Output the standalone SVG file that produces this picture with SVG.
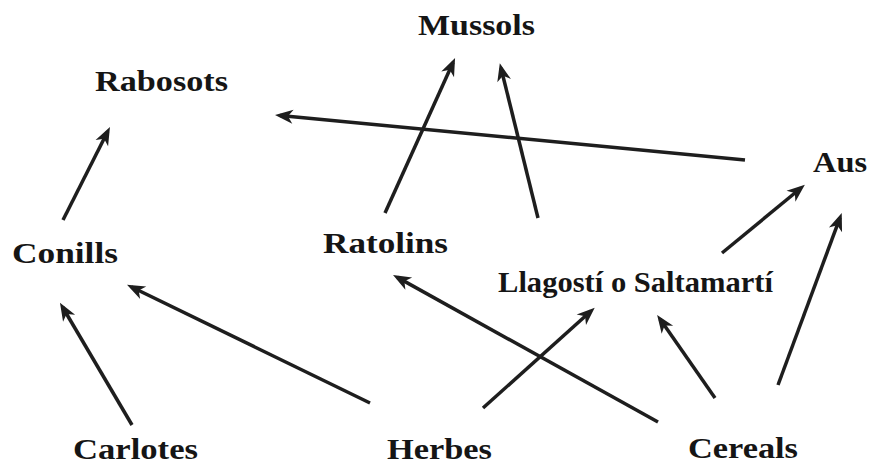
<svg xmlns="http://www.w3.org/2000/svg" width="869" height="466" viewBox="0 0 869 466">
<style>
text{font-family:"Liberation Serif","Times New Roman",serif;font-weight:bold;font-size:29px;fill:#151515}
.c line{stroke:#1e1e1e;stroke-width:3.5;marker-end:url(#ah)}
</style>
<defs>
<marker id="ah" markerUnits="userSpaceOnUse" markerWidth="24" markerHeight="16" refX="15" refY="8" orient="auto">
<path d="M2,1 L20,8 L2,15 L7,8 Z" fill="#1e1e1e"/>
</marker>
</defs>
<rect width="869" height="466" fill="#fff"/>
<g id="mussols"><text x="418" y="35" textLength="117" lengthAdjust="spacingAndGlyphs">Mussols</text></g>
<g id="rabosots"><text x="95" y="91" textLength="133" lengthAdjust="spacingAndGlyphs">Rabosots</text></g>
<g id="aus"><text x="813" y="172" textLength="54" lengthAdjust="spacingAndGlyphs">Aus</text></g>
<g id="conills"><text x="12" y="263" textLength="106" lengthAdjust="spacingAndGlyphs">Conills</text></g>
<g id="ratolins"><text x="323" y="253" textLength="125" lengthAdjust="spacingAndGlyphs">Ratolins</text></g>
<g id="llagosti"><text x="498" y="292" textLength="275" lengthAdjust="spacingAndGlyphs">Llagostí o Saltamartí</text></g>
<g id="carlotes"><text x="73" y="459" textLength="125" lengthAdjust="spacingAndGlyphs">Carlotes</text></g>
<g id="herbes"><text x="387" y="459" textLength="105" lengthAdjust="spacingAndGlyphs">Herbes</text></g>
<g id="cereals"><text x="688" y="458" textLength="110" lengthAdjust="spacingAndGlyphs">Cereals</text></g>
<g class="c" id="connectors">
<line x1="63" y1="220" x2="107.7" y2="131.5"/>
<line x1="385" y1="213" x2="453" y2="62.5"/>
<line x1="538" y1="218" x2="501" y2="68"/>
<line x1="745" y1="160" x2="280" y2="115.5"/>
<line x1="722" y1="253" x2="801" y2="188"/>
<line x1="778" y1="385" x2="840" y2="217.7"/>
<line x1="132" y1="425" x2="62.5" y2="307"/>
<line x1="370" y1="403" x2="131.5" y2="287"/>
<line x1="658" y1="422" x2="397.4" y2="277.4"/>
<line x1="483" y1="408" x2="591" y2="311"/>
<line x1="715" y1="398" x2="660" y2="319"/>
</g>
</svg>
